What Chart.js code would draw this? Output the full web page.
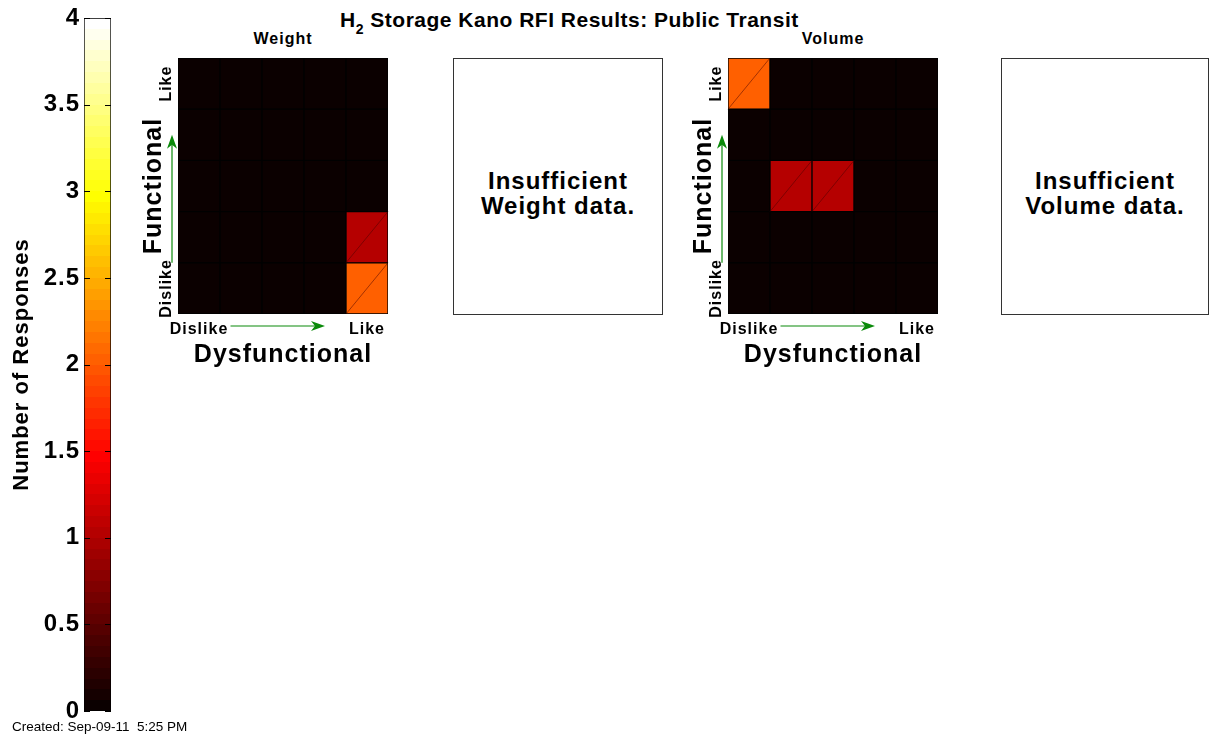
<!DOCTYPE html>
<html>
<head>
<meta charset="utf-8">
<title>H2 Storage Kano RFI Results: Public Transit</title>
<script src="https://cdn.jsdelivr.net/npm/chart.js@4.4.1/dist/chart.umd.min.js"></script>
<style>
  html, body { margin: 0; padding: 0; background: #fff; }
  body { width: 1209px; height: 738px; position: relative; overflow: hidden;
         font-family: "Liberation Sans", Arial, Helvetica, sans-serif; color: #000; }
  .holder { position: absolute; }
  .txt { position: absolute; font-weight: bold; white-space: pre; letter-spacing: 1px; }
  .empty { position: absolute; box-sizing: border-box; border: 1px solid #333; background: #fff; }
  .empty div { position: absolute; left: 0; right: 0; top: 109px; text-align: center;
               font-weight: bold; font-size: 24px; line-height: 25px; letter-spacing: 1px; }
  sub { font-size: 14px; line-height: 0; vertical-align: -7px; }
</style>
</head>
<body>

<div class="txt" style="left:340px;top:9px;font-size:21px;line-height:21px;letter-spacing:0.5px">H<sub>2</sub> Storage Kano RFI Results: Public Transit</div>

<div class="holder" style="left:0;top:0;width:125px;height:738px"><canvas id="colorbar"></canvas></div>

<div class="txt" style="left:183px;top:31px;width:200px;text-align:center;font-size:16px;line-height:16px">Weight</div>
<div class="holder" style="left:120px;top:40px;width:280px;height:330px"><canvas id="weightChart"></canvas></div>
<div class="empty" style="left:453px;top:58px;width:210px;height:257px"><div>Insufficient
Weight data.</div></div>

<div class="txt" style="left:733px;top:31px;width:200px;text-align:center;font-size:16px;line-height:16px">Volume</div>
<div class="holder" style="left:670px;top:40px;width:280px;height:330px"><canvas id="volumeChart"></canvas></div>
<div class="empty" style="left:1001px;top:58px;width:208px;height:257px"><div>Insufficient
Volume data.</div></div>

<div class="txt" style="left:12px;top:720px;font-size:13.5px;line-height:13px;font-weight:normal;letter-spacing:0">Created: Sep-09-11  5:25 PM</div>

<script>
// Kano answer levels, dysfunctional across, functional up (Dislike -> Like)
const dysLabels = ['Dislike', '', '', '', 'Like'];
const funcLabels = ['Dislike', '', '', '', 'Like'];

// number of responses per cell, one row per functional level (bottom row first)
const weightCounts = [
    [0, 0, 0, 0, 2],
    [0, 0, 0, 0, 1],
    [0, 0, 0, 0, 0],
    [0, 0, 0, 0, 0],
    [0, 0, 0, 0, 0]
];
const volumeCounts = [
    [0, 0, 0, 0, 0],
    [0, 0, 0, 0, 0],
    [0, 1, 1, 0, 0],
    [0, 0, 0, 0, 0],
    [2, 0, 0, 0, 0]
];

// colour bar range and ticks
const colorMax = 4;
const colorbarTicks = [0, 0.5, 1, 1.5, 2, 2.5, 3, 3.5, 4];

const FONT = '"Liberation Sans", Arial, Helvetica, sans-serif';
Chart.defaults.font.family = FONT;
Chart.defaults.color = '#000';

// matlab style "hot" colormap with 64 entries
const N_COLORS = 64;
function hotColor(i) {
    const r = Math.min(1, i / 24);
    const g = Math.min(1, Math.max(0, (i - 24) / 24));
    const b = Math.min(1, Math.max(0, (i - 48) / 16));
    return `rgb(${Math.round(r * 255)},${Math.round(g * 255)},${Math.round(b * 255)})`;
}
function colorForCount(v) {
    const i = Math.min(N_COLORS, Math.floor(v / colorMax * N_COLORS) + 1);
    return hotColor(i);
}

// wider letter spacing, like the printed figure
const spacingPlugin = {
    id: 'spacing',
    beforeLayout(chart) { chart.ctx.letterSpacing = '1px'; },
    beforeDraw(chart) { chart.ctx.letterSpacing = '1px'; }
};

// short dashes inside the colour bar at each tick
const colorbarTickPlugin = {
    id: 'cbarTicks',
    afterDatasetsDraw(chart) {
        const { ctx, chartArea, scales } = chart;
        ctx.save();
        ctx.strokeStyle = '#000';
        ctx.lineWidth = 1;
        colorbarTicks.forEach(v => {
            const y = Math.round(scales.y.getPixelForValue(v)) + 0.5;
            ctx.beginPath();
            ctx.moveTo(chartArea.left, y);
            ctx.lineTo(chartArea.left + 6, y);
            ctx.moveTo(chartArea.right - 6, y);
            ctx.lineTo(chartArea.right, y);
            ctx.stroke();
        });
        ctx.restore();
    }
};

// thin diagonal seen across filled cells
const diagonalPlugin = {
    id: 'diagonals',
    afterDatasetsDraw(chart) {
        const ctx = chart.ctx;
        ctx.save();
        ctx.strokeStyle = 'rgba(70,0,0,0.7)';
        ctx.lineWidth = 0.7;
        chart.data.datasets.forEach((ds, di) => {
            chart.getDatasetMeta(di).data.forEach((bar, j) => {
                if (!ds.counts[j]) return;
                const { x, y, base, width } = bar.getProps(['x', 'y', 'base', 'width'], true);
                ctx.beginPath();
                ctx.moveTo(x - width / 2, base);
                ctx.lineTo(x + width / 2, y);
                ctx.stroke();
            });
        });
        ctx.restore();
    }
};

function drawArrow(ctx, x1, y1, x2, y2) {
    const ang = Math.atan2(y2 - y1, x2 - x1);
    const len = 14, half = 5, notch = 10;
    ctx.beginPath();
    ctx.moveTo(x1, y1);
    ctx.lineTo(x2 - Math.cos(ang) * notch, y2 - Math.sin(ang) * notch);
    ctx.stroke();
    const bx = x2 - Math.cos(ang) * len, by = y2 - Math.sin(ang) * len;
    const nx = -Math.sin(ang), ny = Math.cos(ang);
    ctx.beginPath();
    ctx.moveTo(x2, y2);
    ctx.lineTo(bx + nx * half, by + ny * half);
    ctx.lineTo(x2 - Math.cos(ang) * notch, y2 - Math.sin(ang) * notch);
    ctx.lineTo(bx - nx * half, by - ny * half);
    ctx.closePath();
    ctx.fill();
}

// green "Dislike -> Like" arrows along both axes
const arrowPlugin = {
    id: 'arrows',
    afterDraw(chart) {
        const { ctx, chartArea, scales } = chart;
        ctx.save();
        ctx.strokeStyle = '#0a8a0a';
        ctx.fillStyle = '#0a8a0a';
        ctx.lineWidth = 1.2;
        const ay = chartArea.bottom + 12;
        drawArrow(ctx, scales.x.getPixelForValue(0.75), ay, scales.x.getPixelForValue(3), ay);
        const ax = chartArea.left - 6;
        drawArrow(ctx, ax, scales.y.getPixelForValue(1), ax, scales.y.getPixelForValue(3.5));
        ctx.restore();
    }
};

function makeKanoChart(canvasId, counts) {
    const datasets = counts.map(row => ({
        data: row.map(() => 1),
        counts: row,
        backgroundColor: row.map(colorForCount),
        borderColor: '#000',
        borderWidth: 1,
        borderSkipped: false,
        barPercentage: 1,
        categoryPercentage: 1,
        stack: 'cells'
    }));

    return new Chart(document.getElementById(canvasId), {
        type: 'bar',
        data: { labels: dysLabels, datasets },
        options: {
            responsive: true,
            maintainAspectRatio: false,
            animation: false,
            events: [],
            layout: { padding: { top: 18, right: 12, left: 0, bottom: 0 } },
            plugins: { legend: { display: false }, tooltip: { enabled: false } },
            scales: {
                x: {
                    stacked: true,
                    grid: { display: false },
                    border: { display: false },
                    ticks: { font: { size: 16, weight: 'bold' }, padding: -2, maxRotation: 0, autoSkip: false },
                    title: { display: true, text: 'Dysfunctional', font: { size: 25, weight: 'bold' }, padding: { top: 0, bottom: 0 } },
                    afterFit: s => { s.height = 56; }
                },
                y: { display: false, stacked: true, min: 0, max: funcLabels.length },
                yl: {
                    type: 'category',
                    position: 'left',
                    labels: [...funcLabels].reverse(),
                    offset: true,
                    grid: { display: false },
                    border: { display: false },
                    ticks: { font: { size: 16, weight: 'bold' }, minRotation: 90, maxRotation: 90,
                             crossAlign: 'center', padding: -26, autoSkip: false },
                    title: { display: true, text: 'Functional', font: { size: 25, weight: 'bold' }, padding: { top: 19, bottom: 0 } },
                    afterFit: s => { s.width = 58; }
                }
            }
        },
        plugins: [spacingPlugin, diagonalPlugin, arrowPlugin]
    });
}

// colour bar: a single bar from 0 to colorMax filled with the colormap
function colorbarFill(c) {
    const chart = c.chart;
    if (!chart.chartArea) return '#000';
    const ys = chart.scales.y;
    const y0 = ys.getPixelForValue(0), y1 = ys.getPixelForValue(colorMax);
    const grad = chart.ctx.createLinearGradient(0, y0, 0, y1);
    for (let k = 1; k <= N_COLORS; k++) {
        const col = hotColor(k);
        grad.addColorStop((k - 1) / N_COLORS, col);
        grad.addColorStop(k / N_COLORS, col);
    }
    return grad;
}

new Chart(document.getElementById('colorbar'), {
    type: 'bar',
    data: {
        labels: [''],
        datasets: [{
            data: [colorMax],
            backgroundColor: colorbarFill,
            borderColor: '#000',
            borderWidth: 1,
            borderSkipped: false,
            barPercentage: 1,
            categoryPercentage: 1
        }]
    },
    options: {
        responsive: true,
        maintainAspectRatio: false,
        animation: false,
        events: [],
        layout: { padding: { top: 18, bottom: 27, left: 0, right: 14 } },
        plugins: { legend: { display: false }, tooltip: { enabled: false } },
        scales: {
            x: { display: false },
            y: {
                min: 0,
                max: colorMax,
                afterBuildTicks: s => { s.ticks = colorbarTicks.map(v => ({ value: v })); },
                grid: { display: false },
                border: { display: false },
                ticks: { font: { size: 24, weight: 'bold' }, padding: -4, callback: v => String(v) },
                title: { display: true, text: 'Number of Responses', font: { size: 22, weight: 'bold' }, padding: { top: 9, bottom: 0 } },
                afterFit: s => { s.width = 84; }
            }
        }
    },
    plugins: [spacingPlugin, colorbarTickPlugin]
});

makeKanoChart('weightChart', weightCounts);
makeKanoChart('volumeChart', volumeCounts);
</script>
</body>
</html>
